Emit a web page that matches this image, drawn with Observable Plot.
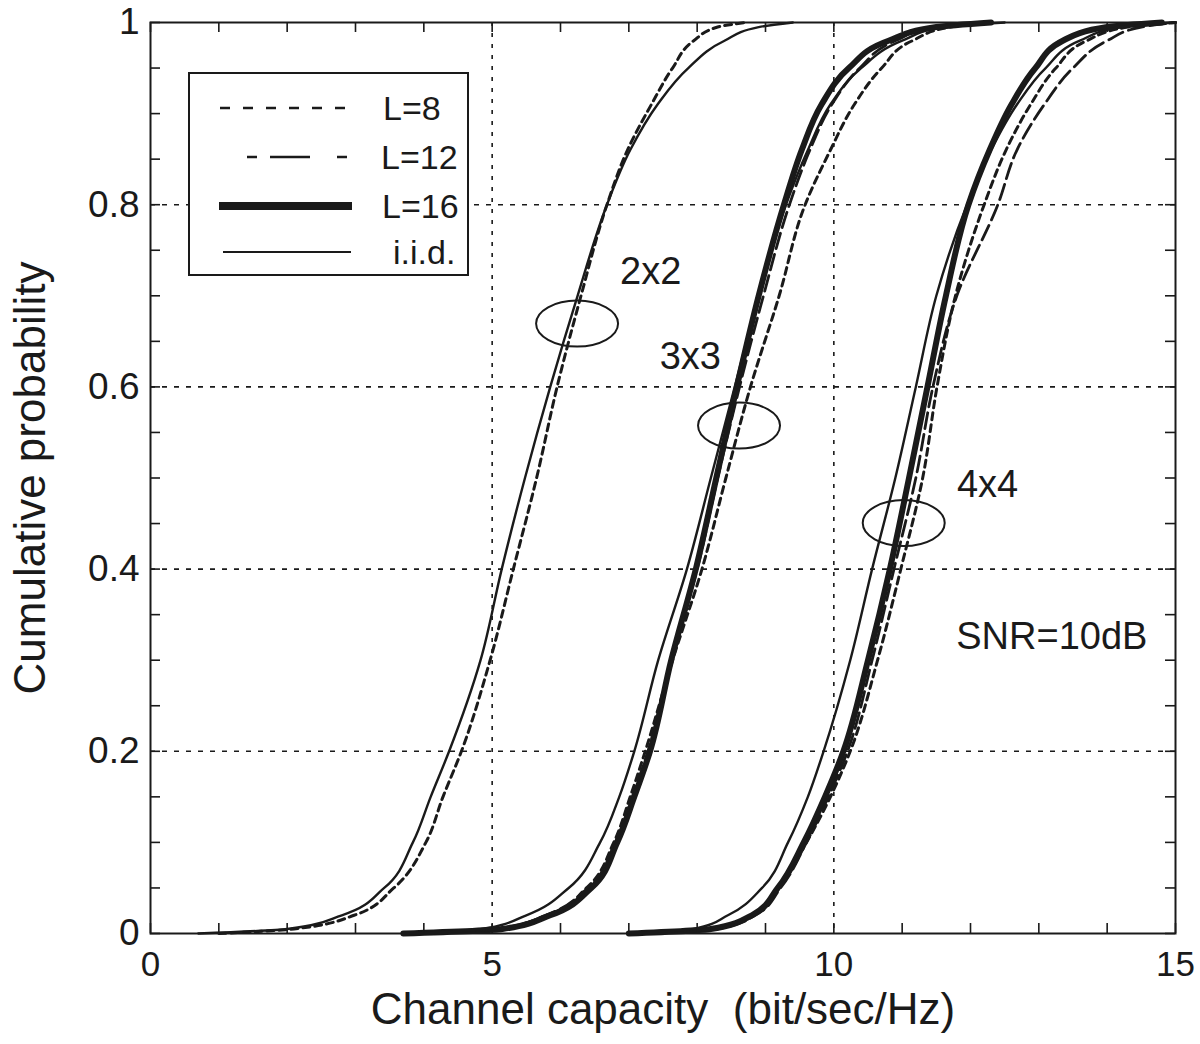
<!DOCTYPE html>
<html>
<head>
<meta charset="utf-8">
<script src="https://cdn.jsdelivr.net/npm/d3@7"></script>
<script src="https://cdn.jsdelivr.net/npm/@observablehq/plot@0.6"></script>
<style>
  html, body { margin: 0; padding: 0; background: #ffffff; }
  #chart { position: relative; width: 1200px; height: 1044px; }
</style>
</head>
<body>
<div id="chart"></div>
<script>
// ---- Data ----
// Cumulative probability levels at which capacity values were read
const probs = [0, 0.005, 0.02, 0.05, 0.1, 0.15, 0.2, 0.3, 0.4, 0.5, 0.6, 0.7, 0.8, 0.86, 0.91, 0.95, 0.98, 0.995, 1];

// Channel capacity (bit/sec/Hz) at each probability level
const cap2x2_iid = [0.7, 2.0, 2.8, 3.42, 3.84, 4.1, 4.37, 4.83, 5.14, 5.48, 5.85, 6.25, 6.68, 7.02, 7.42, 7.87, 8.4, 8.9, 9.4];
const cap2x2_L8  = [1.0, 2.1, 2.98, 3.56, 4.03, 4.28, 4.55, 4.97, 5.31, 5.65, 5.95, 6.30, 6.68, 6.98, 7.33, 7.64, 7.95, 8.3, 8.7];

const cap3x3_iid = [3.8, 4.85, 5.5, 6.12, 6.58, 6.86, 7.08, 7.43, 7.85, 8.2, 8.55, 8.9, 9.3, 9.62, 9.95, 10.4, 11.0, 11.6, 12.5];
const cap3x3_L16 = [3.7, 5.15, 5.85, 6.45, 6.83, 7.08, 7.31, 7.62, 7.98, 8.28, 8.58, 8.9, 9.27, 9.53, 9.82, 10.22, 10.8, 11.5, 12.3];
const cap3x3_L12 = [3.8, 5.1, 5.78, 6.4, 6.8, 7.05, 7.28, 7.62, 8.0, 8.3, 8.62, 8.97, 9.35, 9.65, 9.97, 10.38, 10.9, 11.5, 12.3];
const cap3x3_L8  = [3.9, 5.05, 5.8, 6.38, 6.78, 7.02, 7.24, 7.64, 8.07, 8.42, 8.78, 9.2, 9.58, 9.95, 10.3, 10.7, 11.15, 11.7, 12.3];

const cap4x4_iid = [7.0, 7.95, 8.45, 8.95, 9.33, 9.62, 9.85, 10.24, 10.56, 10.9, 11.2, 11.5, 11.95, 12.3, 12.68, 13.1, 13.6, 14.2, 15.0];
const cap4x4_L16 = [7.0, 8.2, 8.8, 9.18, 9.56, 9.87, 10.14, 10.5, 10.82, 11.1, 11.37, 11.64, 11.97, 12.28, 12.6, 12.95, 13.35, 14.0, 14.8];
const cap4x4_L12 = [7.2, 8.3, 8.85, 9.22, 9.6, 9.92, 10.2, 10.56, 10.88, 11.2, 11.45, 11.8, 12.4, 12.68, 13.08, 13.5, 14.0, 14.5, 15.0];
const cap4x4_L8  = [7.2, 8.25, 8.82, 9.2, 9.6, 9.95, 10.24, 10.64, 10.98, 11.3, 11.51, 11.78, 12.2, 12.52, 12.88, 13.25, 13.7, 14.3, 15.0];

// Axis ticks
const xTickLabels = [0, 5, 10, 15];
const xMinorTicks = [0, 1, 2, 3, 4, 5, 6, 7, 8, 9, 10, 11, 12, 13, 14, 15];
const yTickLabels = [0, 0.2, 0.4, 0.6, 0.8, 1];
const yMinorTicks = [0, 0.05, 0.1, 0.15, 0.2, 0.25, 0.3, 0.35, 0.4, 0.45, 0.5, 0.55, 0.6, 0.65, 0.7, 0.75, 0.8, 0.85, 0.9, 0.95, 1];
const xGrid = [5, 10];
const yGrid = [0.2, 0.4, 0.6, 0.8];

// Annotations
const annText = ["2x2", "3x3", "4x4", "SNR=10dB"];
const annX = [7.32, 7.90, 12.25, 13.19];
const annY = [0.726, 0.633, 0.493, 0.326];
const ellipseX = [6.25, 8.62, 11.03];
const ellipseY = [0.669, 0.557, 0.45];

// Legend entries
const legendNames = ["L=8", "L=12", "L=16", "i.i.d."];

// ---- Build tables ----
const series = [
  {key: "2x2 L=8", type: "L=8", xs: cap2x2_L8},
  {key: "2x2 iid", type: "i.i.d.", xs: cap2x2_iid},
  {key: "3x3 L=16", type: "L=16", xs: cap3x3_L16},
  {key: "3x3 L=12", type: "L=12", xs: cap3x3_L12},
  {key: "3x3 L=8", type: "L=8", xs: cap3x3_L8},
  {key: "3x3 iid", type: "i.i.d.", xs: cap3x3_iid},
  {key: "4x4 L=16", type: "L=16", xs: cap4x4_L16},
  {key: "4x4 L=12", type: "L=12", xs: cap4x4_L12},
  {key: "4x4 L=8", type: "L=8", xs: cap4x4_L8},
  {key: "4x4 iid", type: "i.i.d.", xs: cap4x4_iid}
];
const rows = series.flatMap(s => probs.map((p, i) => ({series: s.key, type: s.type, x: s.xs[i], y: p})));
const annotations = annText.map((t, i) => ({text: t, x: annX[i], y: annY[i]}));

const ink = "#1a1a1a";
const lineStyles = {
  "L=16":   {strokeWidth: 6},
  "L=12":   {strokeWidth: 2.8, strokeDasharray: "16,6"},
  "L=8":    {strokeWidth: 3, strokeDasharray: "7,5"},
  "i.i.d.": {strokeWidth: 2.4}
};
const drawOrder = ["L=16", "L=12", "L=8", "i.i.d."];
const font = "'Liberation Sans', Arial, Helvetica, sans-serif";

const chart = Plot.plot({
  width: 1200,
  height: 1044,
  marginLeft: 150,
  marginRight: 25,
  marginTop: 22,
  marginBottom: 111,
  style: {fontFamily: font, background: "#ffffff", color: ink, overflow: "visible"},
  x: {domain: [0, 15], axis: null},
  y: {domain: [0, 1], axis: null},
  marks: [
    Plot.ruleX(xGrid, {stroke: ink, strokeWidth: 1.6, strokeDasharray: "4,7"}),
    Plot.ruleY(yGrid, {stroke: ink, strokeWidth: 1.6, strokeDasharray: "5,7"}),
    ...drawOrder.map(t => Plot.line(rows.filter(r => r.type === t), {
      x: "x", y: "y", z: "series", stroke: ink, curve: "monotone-y",
      strokeLinejoin: "round", ...lineStyles[t]
    })),
    // inward ticks on all four sides
    Plot.ruleX(xMinorTicks, {stroke: ink, strokeWidth: 1.6, insetTop: 901}),
    Plot.ruleX(xMinorTicks, {stroke: ink, strokeWidth: 1.6, insetBottom: 901}),
    Plot.ruleY(yMinorTicks, {stroke: ink, strokeWidth: 1.6, insetRight: 1015}),
    Plot.ruleY(yMinorTicks, {stroke: ink, strokeWidth: 1.6, insetLeft: 1015}),
    Plot.frame({stroke: ink, strokeWidth: 2}),
    // tick labels
    Plot.text(xTickLabels, {x: d => d, frameAnchor: "bottom", lineAnchor: "middle", dy: 31, text: d => String(d), fontSize: 35, fill: ink}),
    Plot.text(yTickLabels, {y: d => d, frameAnchor: "left", lineAnchor: "middle", dx: -11, textAnchor: "end", text: d => String(d), fontSize: 37, fill: ink}),
    // axis titles
    Plot.text(["Channel capacity\u00a0\u00a0(bit/sec/Hz)"], {frameAnchor: "bottom", lineAnchor: "middle", dy: 76, text: d => d, fontSize: 44, fill: ink}),
    Plot.text(["Cumulative probability"], {frameAnchor: "left", textAnchor: "middle", lineAnchor: "middle", dx: -120, rotate: -90, text: d => d, fontSize: 44, fill: ink}),
    // annotations
    Plot.text(annotations, {x: "x", y: "y", text: "text", fontSize: 38, fill: ink})
  ]
});

document.getElementById("chart").appendChild(chart);

// Ellipses marking each group, placed through the chart's scales
const sx = chart.scale("x"), sy = chart.scale("y");
const svg = d3.select(chart);
const eg = svg.append("g").attr("fill", "none").attr("stroke", ink).attr("stroke-width", 2);
ellipseX.forEach((ex, i) => {
  eg.append("ellipse")
    .attr("cx", sx.apply(ex))
    .attr("cy", sy.apply(ellipseY[i]))
    .attr("rx", 41)
    .attr("ry", 23);
});

// Legend box (inside plot, upper left)
const lg = svg.append("g").attr("font-family", font).attr("font-size", 34).attr("fill", ink).attr("text-anchor", "start");
lg.append("rect").attr("x", 189).attr("y", 73).attr("width", 279).attr("height", 202)
  .attr("fill", "#ffffff").attr("stroke", ink).attr("stroke-width", 2);
const legendRows = [
  {y: 108, x1: 220, x2: 347, w: 2.6, dash: "10,13", tx: 383},
  {y: 157, x1: 247, x2: 350, w: 2.4, dash: "10,13,40,27", tx: 381},
  {y: 206, x1: 219, x2: 352, w: 8, dash: null, tx: 382},
  {y: 252, x1: 223, x2: 351, w: 2, dash: null, tx: 393}
];
legendRows.forEach((r, i) => {
  const ln = lg.append("line").attr("x1", r.x1).attr("x2", r.x2).attr("y1", r.y).attr("y2", r.y)
    .attr("stroke", ink).attr("stroke-width", r.w);
  if (r.dash) ln.attr("stroke-dasharray", r.dash);
  lg.append("text").attr("x", r.tx).attr("y", r.y).attr("dy", "0.36em").attr("text-anchor", "start")
    .attr("stroke", "none").text(legendNames[i]);
});
</script>
</body>
</html>
